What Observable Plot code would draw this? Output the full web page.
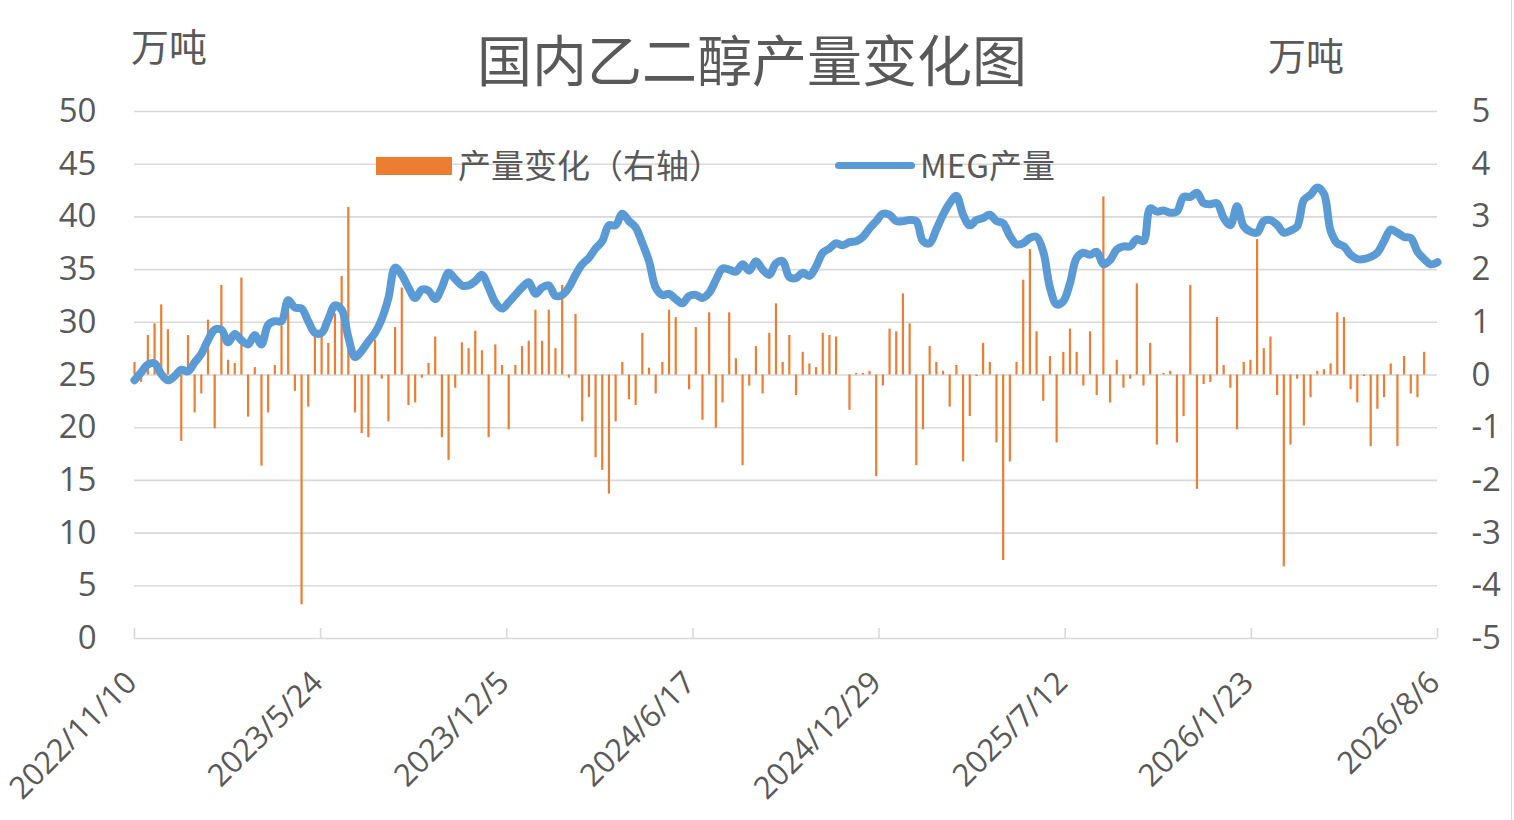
<!DOCTYPE html>
<html>
<head>
<meta charset="utf-8">
<script src="https://cdn.jsdelivr.net/npm/d3@7"></script>
<script src="https://cdn.jsdelivr.net/npm/@observablehq/plot@0.6"></script>
<style>
  html, body { margin: 0; padding: 0; background: #fff; }
  #wrap { position: relative; width: 1514px; height: 820px; overflow: hidden; background: #fff; }
  #chart { position: absolute; left: 0; top: 0; }
  .lbl { position: absolute; color: #595959; font-family: "Noto Sans CJK SC", "Open Sans", sans-serif; white-space: nowrap; line-height: 1; }
  #edge { position: absolute; right: 2px; top: 0; width: 1px; height: 820px; background: #d9d9d9; }
</style>
</head>
<body>
<div id="wrap">
  <div id="chart"></div>
  <div class="lbl" id="title" style="left:477px; top:30px; font-size:55px;">国内乙二醇产量变化图</div>
  <div class="lbl" id="unitL" style="left:131px; top:26px; font-size:38px;">万吨</div>
  <div class="lbl" id="unitR" style="left:1268px; top:35px; font-size:38px;">万吨</div>
  <div style="position:absolute; left:376px; top:157px; width:76px; height:18px; background:#ED7D31;"></div>
  <div class="lbl" style="left:458px; top:148px; font-size:33px;">产量变化（右轴）</div>
  <div style="position:absolute; left:835px; top:162px; width:80px; height:7px; border-radius:4px; background:#5B9BD5;"></div>
  <div class="lbl" style="left:920px; top:148px; font-size:33px;">MEG产量</div>
  <div id="edge"></div>
</div>
<script>
// Weekly observations starting 2022/11/10
const startDate = "2022-11-10";
const weekCount = 196;

// MEG产量 (万吨, left axis)
const production = [
  24.5, 25.25, 26.0, 26.1, 25.1, 24.5, 24.9, 25.5, 25.35, 26.2,
  27.0, 28.3, 29.3, 29.3, 28.1, 28.9, 28.3, 27.9, 28.8, 27.9,
  29.75, 30.1, 30.1, 32.1, 31.4, 31.3, 30.1, 29.0, 29.0, 30.3,
  31.6, 31.2, 28.6, 26.7, 27.3, 28.2, 29.0, 30.3, 32.3, 35.2,
  34.5, 33.3, 32.3, 33.1, 33.0, 32.2, 33.3, 34.7, 34.1, 33.5,
  33.5, 33.9, 34.5, 33.3, 31.9, 31.3, 31.9, 32.6, 33.3, 33.8,
  32.7, 33.3, 33.5, 32.5, 32.6, 33.3, 34.5, 35.5, 36.1, 37.0,
  37.7, 39.2, 39.2, 40.3, 39.6, 39.0, 37.5, 35.8, 33.3, 32.6,
  32.7, 32.2, 31.8, 32.5, 32.6, 32.3, 32.8, 34.0, 35.1, 35.0,
  34.8, 35.5, 34.9, 35.8, 35.0, 34.5, 35.6, 35.8, 34.3, 34.2,
  34.7, 34.4, 35.3, 36.6, 37.0, 37.5, 37.3, 37.6, 37.7, 38.1,
  38.9, 39.6, 40.3, 40.2, 39.6, 39.6, 39.7, 39.6, 37.7, 37.5,
  38.8, 40.2, 41.3, 42.0, 40.2, 39.2, 39.7, 39.9, 40.2, 39.6,
  39.4, 38.2, 37.4, 37.5, 38.0, 38.1, 36.7, 33.3, 31.7, 32.0,
  33.7, 36.1, 36.6, 36.4, 36.7, 35.5, 35.9, 36.9, 37.2, 37.2,
  37.9, 37.7, 40.8, 40.5, 40.6, 40.4, 40.5, 41.9, 41.9, 42.3,
  41.3, 41.2, 41.3, 39.9, 39.2, 41.0, 39.1, 38.6, 38.5, 39.6,
  39.7, 39.25, 38.5, 38.7, 39.1, 41.6, 42.1, 42.8, 42.2, 38.7,
  37.5, 37.2, 36.4, 36.0, 36.0, 36.2, 36.6, 37.7, 38.8, 38.5,
  38.1, 38.0, 36.7, 36.0, 35.5, 35.7
];

// 产量变化 (万吨, right axis)
const change = [
  0.24, -0.14, 0.75, 0.97, 1.33, 0.86, 0, -1.26, 0.75, -0.72,
  -0.36, 1.04, -1.02, 1.70, 0.28, 0.22, 1.84, -0.80, 0.14, -1.73,
  -0.72, 0.18, 0.93, 1.21, -0.31, -4.36, -0.61, 0.77, 0.75, 0.60,
  1.16, 1.87, 3.18, -0.72, -1.11, -1.19, 0.66, -0.08, -0.89, 0.90,
  1.65, -0.58, -0.53, -0.06, 0.22, 0.72, -1.19, -1.62, -0.25, 0.61,
  0.50, 0.83, 0.46, -1.19, 0.57, 0.18, -1.04, 0.18, 0.54, 0.64,
  1.23, 0.64, 1.23, 0.50, 1.70, -0.06, 1.15, -0.89, -0.43, -1.57,
  -1.81, -2.26, -0.89, 0.24, -0.47, -0.58, 0.79, 0.13, -0.36, 0.24,
  1.23, 1.09, 0, -0.28, 0.90, -0.86, 1.18, -1.01, -0.53, 1.18,
  0.31, -1.72, -0.21, 0.54, -0.36, 0.79, 1.35, 0.24, 0.75, -0.39,
  0.43, 0.21, 0.14, 0.79, 0.75, 0.72, 0, -0.67, 0.03, 0.03,
  0.07, -1.93, -0.21, 0.87, 0.82, 1.54, 0.97, -1.72, -1.04, 0.54,
  0.24, 0.07, -0.61, 0.18, -1.65, -0.79, -0.03, 0.60, 0.24, -1.29,
  -3.52, -1.65, 0.24, 1.80, 2.38, 0.82, -0.50, 0.35, -1.29, 0.43,
  0.87, 0.43, -0.21, 0.82, -0.39, 3.38, -0.53, 0.28, -0.25, -0.08,
  1.73, -0.21, 0.60, -1.33, 0.03, 0.07, -1.29, -0.79, 1.70, -2.17,
  -0.18, -0.14, 1.09, 0.18, -0.25, -1.04, 0.24, 0.28, 2.57, 0.50,
  0.72, -0.39, -3.64, -1.33, -0.08, -0.97, -0.43, 0.07, 0.10, 0.21,
  1.18, 1.09, -0.28, -0.53, -0.03, -1.36, -0.65, -0.43, 0.21, -1.36,
  0.35, -0.36, -0.43, 0.43, 0, 0
];

// x-axis tick labels
const xTickLabels = ["2022/11/10", "2023/5/24", "2023/12/5", "2024/6/17", "2024/12/29", "2025/7/12", "2026/1/23", "2026/8/6"];
// left axis ticks (万吨) and right axis range
const leftTicks = [0, 5, 10, 15, 20, 25, 30, 35, 40, 45, 50];
const leftDomain = [0, 50];
const rightDomain = [-5, 5];

// map right-axis values onto the left scale
const r2l = v => leftDomain[0] + (v - rightDomain[0]) * (leftDomain[1] - leftDomain[0]) / (rightDomain[1] - rightDomain[0]);
const l2r = v => rightDomain[0] + (v - leftDomain[0]) * (rightDomain[1] - rightDomain[0]) / (leftDomain[1] - leftDomain[0]);

const start = new Date(startDate + "T00:00:00Z");
const dates = d3.range(weekCount).map(i => d3.utcDay.offset(start, 7 * i));
const data = dates.map((d, i) => ({date: d, prod: production[i], change: change[i]}));
const parseTick = d3.utcParse("%Y/%m/%d");
const tickDates = xTickLabels.map(s => parseTick(s));
const fmt = d3.utcFormat("%Y/%-m/%-d");

const chart = Plot.plot({
  width: 1514,
  height: 820,
  marginLeft: 134,
  marginRight: 77,
  marginTop: 111,
  marginBottom: 182,
  style: {fontFamily: "'Open Sans', 'Noto Sans CJK SC', sans-serif", color: "#595959", background: "transparent", overflow: "visible"},
  x: {type: "utc", domain: [dates[0], dates[dates.length - 1]], axis: null},
  y: {domain: leftDomain, axis: null},
  marks: [
    Plot.gridY(leftTicks, {stroke: "#d9d9d9", strokeOpacity: 1, strokeWidth: 1.6}),
    Plot.ruleX(tickDates, {x: d => d, stroke: "#d9d9d9", strokeWidth: 1.6, insetTop: 517}),
    Plot.ruleX(data, {x: "date", y1: () => r2l(0), y2: d => r2l(d.change), stroke: "#ED7D31", strokeWidth: 2.2}),
    Plot.line(data, {x: "date", y: "prod", stroke: "#5B9BD5", strokeWidth: 8, curve: "catmull-rom", strokeLinejoin: "round", strokeLinecap: "round"}),
    Plot.axisY({anchor: "left", ticks: leftTicks, tickSize: 0, tickPadding: 38, fontSize: 33, label: null, color: "#595959"}),
    Plot.axisY({anchor: "right", ticks: leftTicks, tickFormat: d => String(l2r(d)), tickSize: 0, tickPadding: 34, fontSize: 33, label: null, color: "#595959"}),
    Plot.text(tickDates, {x: d => d, frameAnchor: "bottom", text: d => fmt(d), rotate: -45, textAnchor: "end", dx: 4, dy: 46, fontSize: 31, fill: "#595959"})
  ]
});
document.getElementById("chart").appendChild(chart);
</script>
</body>
</html>
